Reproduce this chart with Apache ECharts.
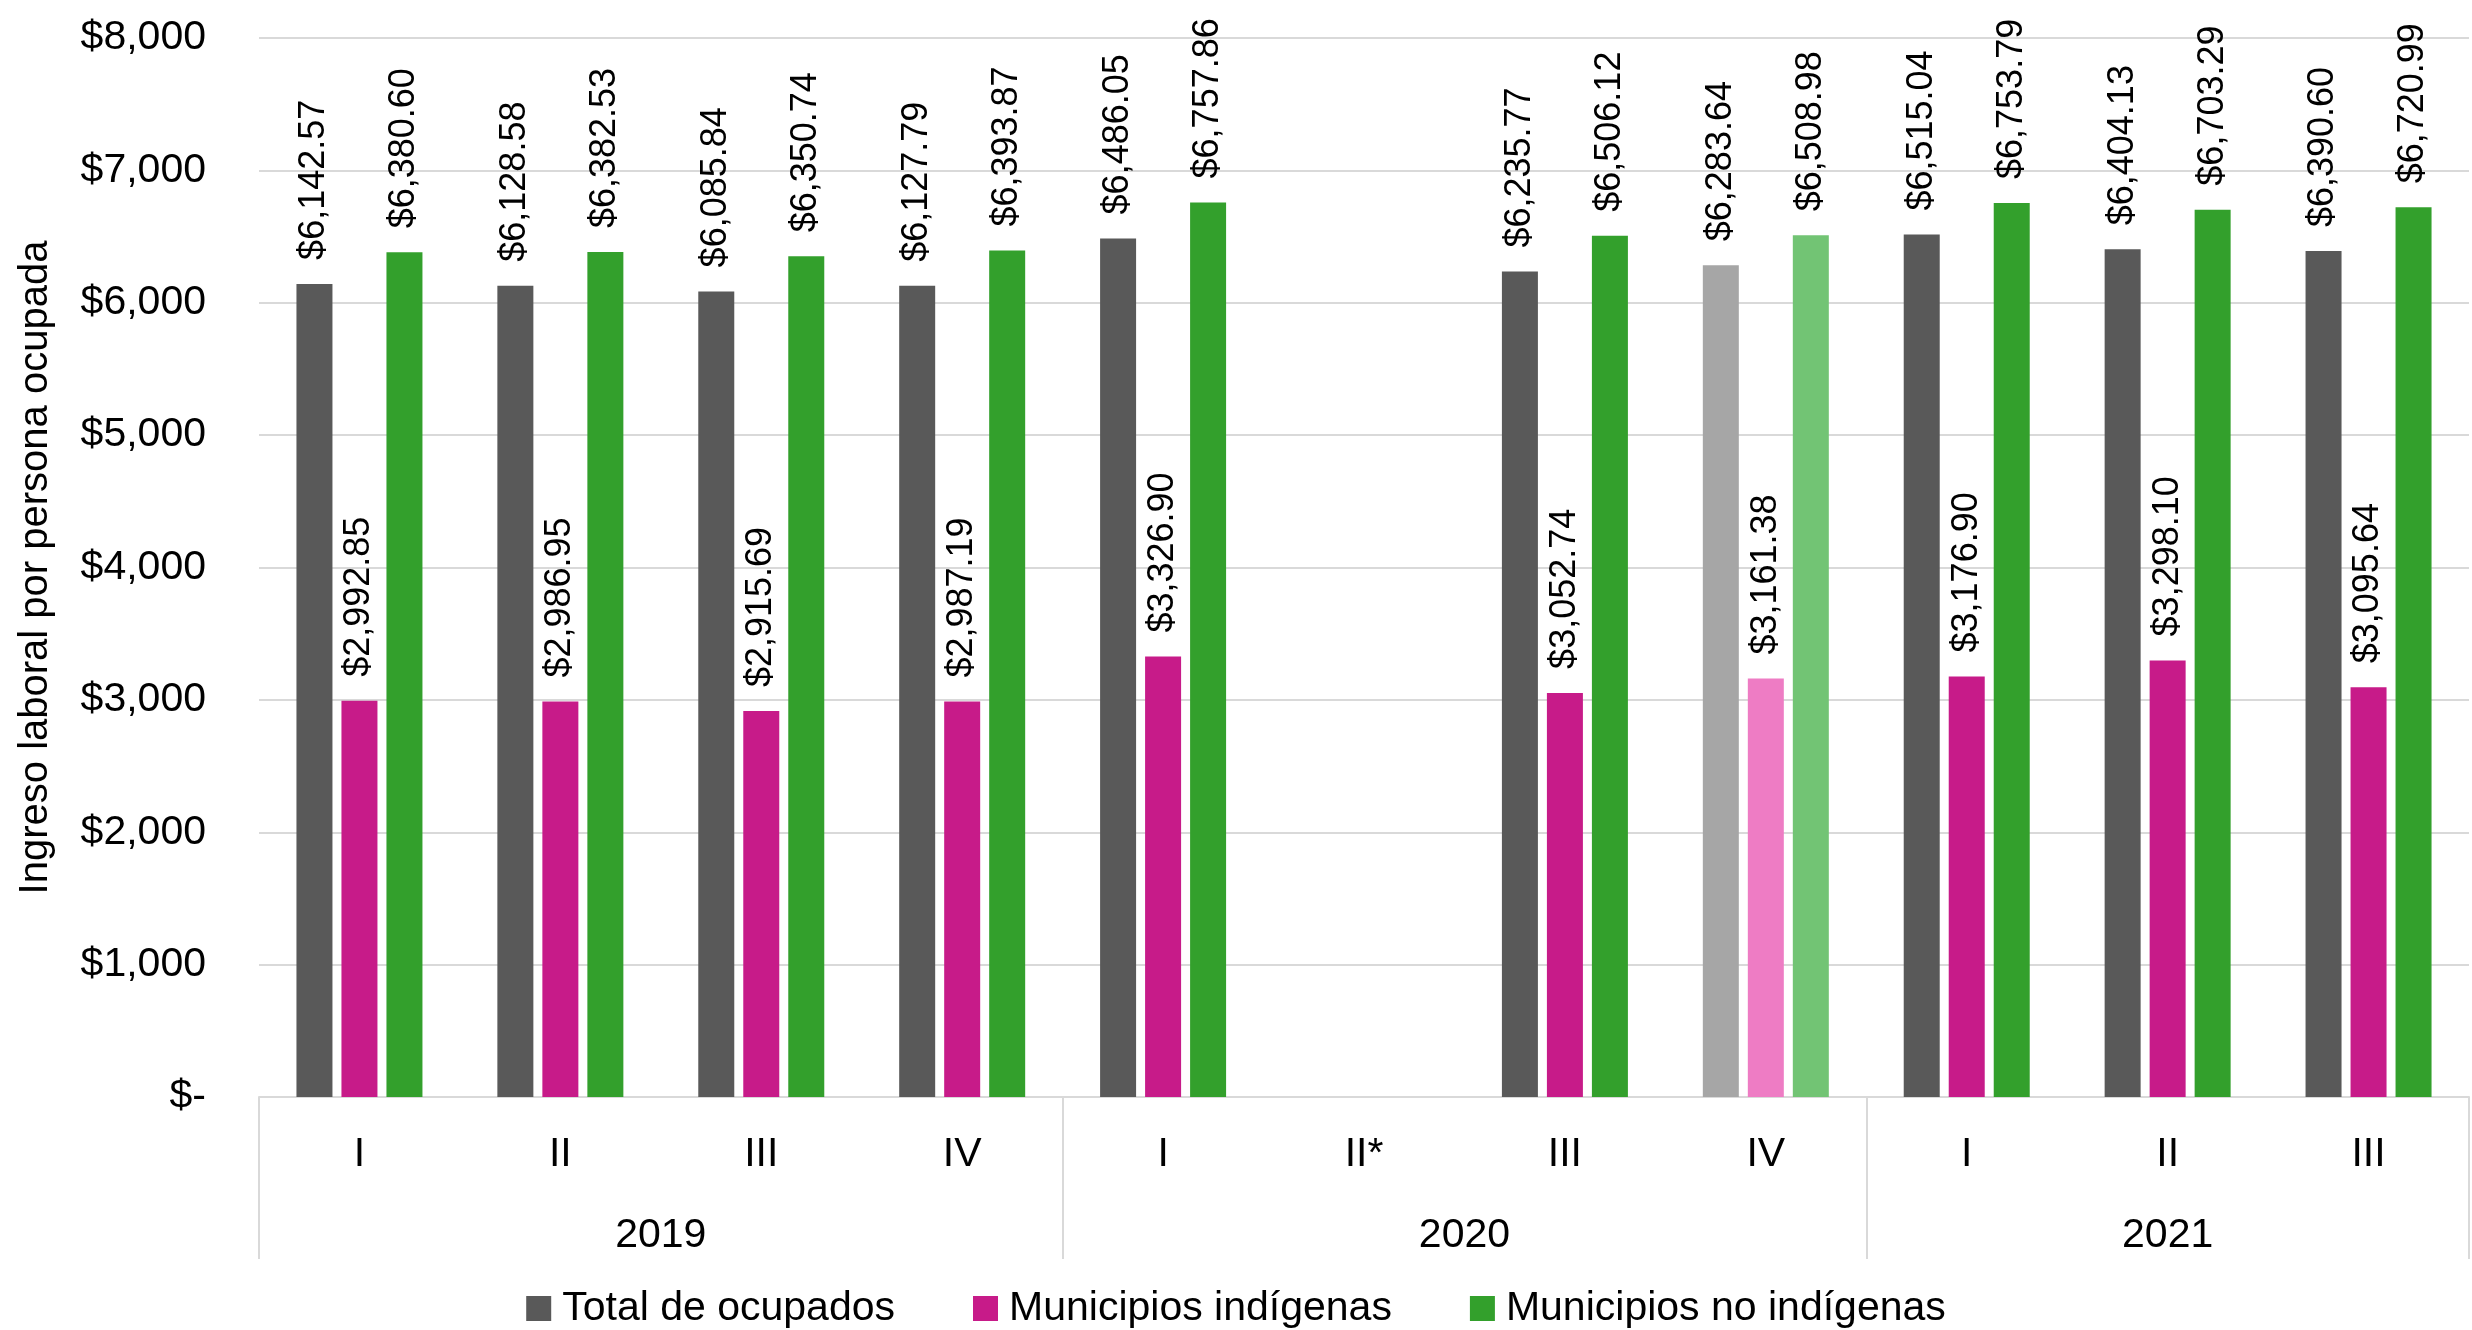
<!DOCTYPE html>
<html>
<head>
<meta charset="utf-8">
<title>Ingreso laboral por persona ocupada</title>
<script src="https://cdn.jsdelivr.net/npm/echarts@6/dist/echarts.min.js"></script>
<style>
  html, body { margin: 0; padding: 0; background: #fff; }
  #chart { width: 2472px; height: 1330px; }
</style>
</head>
<body>
<div id="chart"></div>
<script>
// trimestres y años
const quarters = ['I', 'II', 'III', 'IV', 'I', 'II*', 'III', 'IV', 'I', 'II', 'III']
const years = ['2019', '2020', '2021']
const yearStart = [0, 4, 8]
const yearEnd = [3, 7, 10]

// series (2020 II* sin dato)
const totalOcupados = [6142.57, 6128.58, 6085.84, 6127.79, 6486.05, null, 6235.77, 6283.64, 6515.04, 6404.13, 6390.60]
const municipiosIndigenas = [2992.85, 2986.95, 2915.69, 2987.19, 3326.90, null, 3052.74, 3161.38, 3176.90, 3298.10, 3095.64]
const municipiosNoIndigenas = [6380.60, 6382.53, 6350.74, 6393.87, 6757.86, null, 6506.12, 6508.98, 6753.79, 6703.29, 6720.99]

// eje y
const yMax = 8000
const yStep = 1000

// el trimestre 2020 IV va en tono claro
const lightIndex = 7

const FONT = 'Liberation Sans, Arial, sans-serif'

const money = (v) => '$' + v.toLocaleString('en-US', { minimumFractionDigits: 2, maximumFractionDigits: 2 })

const buildData = (values, lightColor) =>
  values.map((v, i) => {
    if (v === null) return '-'
    if (i === lightIndex) return { value: v, itemStyle: { color: lightColor } }
    return v
  })

const makeSeries = (name, values, color, lightColor) => ({
  name,
  type: 'bar',
  barWidth: 36,
  barGap: '25%',
  data: buildData(values, lightColor),
  itemStyle: { color },
  label: {
    show: true,
    position: 'top',
    rotate: 90,
    align: 'left',
    verticalAlign: 'middle',
    distance: 24,
    color: '#000',
    fontFamily: FONT,
    fontSize: 36,
    formatter: (p) => money(p.value)
  }
})

const chart = echarts.init(document.getElementById('chart'))

const option = {
  animation: false,
  textStyle: { fontFamily: FONT },
  grid: {
    left: 259,
    right: 3,
    top: 38,
    bottom: 233,
    containLabel: false,
    outerBoundsMode: 'none'
  },
  legend: {
    left: 'center',
    top: 1283,
    icon: 'rect',
    itemWidth: 25,
    itemHeight: 25,
    itemGap: 78,
    textStyle: { fontFamily: FONT, fontSize: 41, color: '#000', padding: [0, 0, 0, 6] },
    data: ['Total de ocupados', 'Municipios indígenas', 'Municipios no indígenas']
  },
  xAxis: [
    {
      type: 'category',
      data: quarters,
      axisLine: { lineStyle: { color: '#d9d9d9', width: 2 } },
      // separadores entre años, que bajan hasta debajo de la etiqueta del año
      axisTick: {
        show: true,
        length: 162,
        interval: (idx) => yearStart.includes(idx),
        lineStyle: { color: '#d9d9d9', width: 2 }
      },
      axisLabel: {
        interval: 0,
        margin: 37,
        color: '#000',
        fontFamily: FONT,
        fontSize: 41
      }
    },
    {
      // segundo nivel: años centrados en su grupo de trimestres
      type: 'value',
      position: 'bottom',
      offset: 85,
      min: -0.5,
      max: quarters.length - 0.5,
      interval: 0.5,
      axisLine: { show: false },
      axisTick: { show: false },
      splitLine: { show: false },
      axisLabel: {
        margin: 33,
        color: '#000',
        fontFamily: FONT,
        fontSize: 41,
        formatter: (v) => {
          for (let i = 0; i < years.length; i++) {
            if (Math.abs(v - (yearStart[i] + yearEnd[i]) / 2) < 1e-6) return years[i]
          }
          return ''
        }
      }
    }
  ],
  yAxis: {
    type: 'value',
    min: 0,
    max: yMax,
    interval: yStep,
    name: 'Ingreso laboral por persona ocupada',
    nameLocation: 'middle',
    nameGap: 203,
    nameTextStyle: { fontFamily: FONT, fontSize: 40, color: '#000' },
    axisLine: { show: false },
    axisTick: { show: false },
    splitLine: { lineStyle: { color: '#d9d9d9', width: 2 } },
    axisLabel: {
      margin: 53,
      color: '#000',
      fontFamily: FONT,
      fontSize: 41,
      formatter: (v) => (v === 0 ? '$-' : '$' + v.toLocaleString('en-US'))
    }
  },
  series: [
    makeSeries('Total de ocupados', totalOcupados, '#595959', '#a6a6a6'),
    makeSeries('Municipios indígenas', municipiosIndigenas, '#c71b89', '#ee7cc4'),
    makeSeries('Municipios no indígenas', municipiosNoIndigenas, '#33a02c', '#72c474')
  ]
}

chart.setOption(option)
</script>
</body>
</html>
